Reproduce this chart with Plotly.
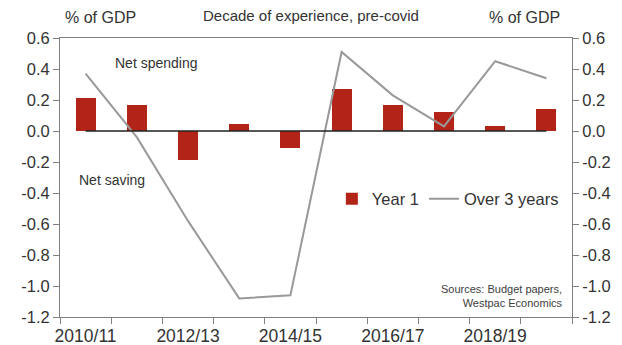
import plotly.graph_objects as go

years = ["2010/11", "2011/12", "2012/13", "2013/14", "2014/15",
         "2015/16", "2016/17", "2017/18", "2018/19", "2019/20"]
year1 = [0.21, 0.17, -0.19, 0.045, -0.11, 0.27, 0.17, 0.12, 0.03, 0.14]
over3 = [0.37, -0.04, -0.58, -1.08, -1.06, 0.51, 0.23, 0.03, 0.45, 0.34]
y_ticks = [0.6, 0.4, 0.2, 0.0, -0.2, -0.4, -0.6, -0.8, -1.0, -1.2]

idx = list(range(len(years)))
label_idx = idx[::2]
label_txt = [years[i] for i in label_idx]

FONT = "Arial, Liberation Sans, sans-serif"
TXT = "#333333"
AX = "#808080"

fig = go.Figure()
fig.add_trace(go.Bar(x=idx, y=year1, name="Year 1", width=0.39,
                     marker=dict(color="#B22418", line=dict(width=0))))
fig.add_trace(go.Scatter(x=idx, y=over3, name="Over 3 years", mode="lines",
                         line=dict(color="#999999", width=2), yaxis="y2"))

fig.add_shape(type="line", xref="x", yref="y", x0=idx[0], x1=idx[-1], y0=0, y1=0,
              line=dict(color="#222222", width=1.5))

yax = dict(range=[-1.2, 0.6], tickvals=y_ticks, ticktext=[f"{v:.1f}" for v in y_ticks],
           showgrid=False, zeroline=False, showline=True, linecolor=AX, linewidth=1,
           ticks="outside", ticklen=6, tickcolor=AX, automargin=False,
           tickfont=dict(family=FONT, size=16.5, color=TXT))

fig.update_layout(
    width=622, height=345,
    margin=dict(l=60, r=50, t=38, b=28),
    paper_bgcolor="white", plot_bgcolor="white",
    font=dict(family=FONT, size=16, color=TXT),
    xaxis=dict(range=[-0.5, len(years) - 0.5], tickvals=label_idx, ticktext=label_txt,
               ticks="", showgrid=False, zeroline=False, showline=True, linecolor=AX,
               linewidth=1, mirror=True, automargin=False, ticklabelstandoff=3,
               minor=dict(tickvals=[i - 0.5 for i in range(len(years) + 1)],
                          ticks="outside", ticklen=6, tickcolor=AX, showgrid=False),
               tickfont=dict(family=FONT, size=17.5, color=TXT)),
    yaxis=yax,
    yaxis2=dict(yax, overlaying="y", side="right"),
    showlegend=True,
    legend=dict(orientation="h", x=0.531, y=0.423, xanchor="left", yanchor="middle",
                bgcolor="rgba(0,0,0,0)", font=dict(family=FONT, size=16.5, color=TXT),
                itemwidth=30, tracegroupgap=0),
    bargap=0,
)

ann = [
    dict(text="% of GDP", x=0.006, y=1.072, xanchor="left", yanchor="middle", size=16),
    dict(text="Decade of experience, pre-covid", x=0.49, y=1.079, xanchor="center",
         yanchor="middle", size=15),
    dict(text="% of GDP", x=0.98, y=1.072, xanchor="right", yanchor="middle", size=16),
    dict(text="Net spending", x=0.1035, y=0.91, xanchor="left", yanchor="middle", size=14),
    dict(text="Net saving", x=0.033, y=0.491, xanchor="left", yanchor="middle", size=14),
]
for a in ann:
    fig.add_annotation(text=a["text"], xref="paper", yref="paper", x=a["x"], y=a["y"],
                       xanchor=a["xanchor"], yanchor=a["yanchor"], showarrow=False,
                       font=dict(family=FONT, size=a["size"], color=TXT))
fig.add_annotation(text="Sources: Budget papers,<br>Westpac Economics", xref="paper",
                   yref="paper", x=0.986, y=0.077, xanchor="right", yanchor="middle",
                   align="right", showarrow=False,
                   font=dict(family=FONT, size=11, color="#404040"))

fig.write_html("out.html")
